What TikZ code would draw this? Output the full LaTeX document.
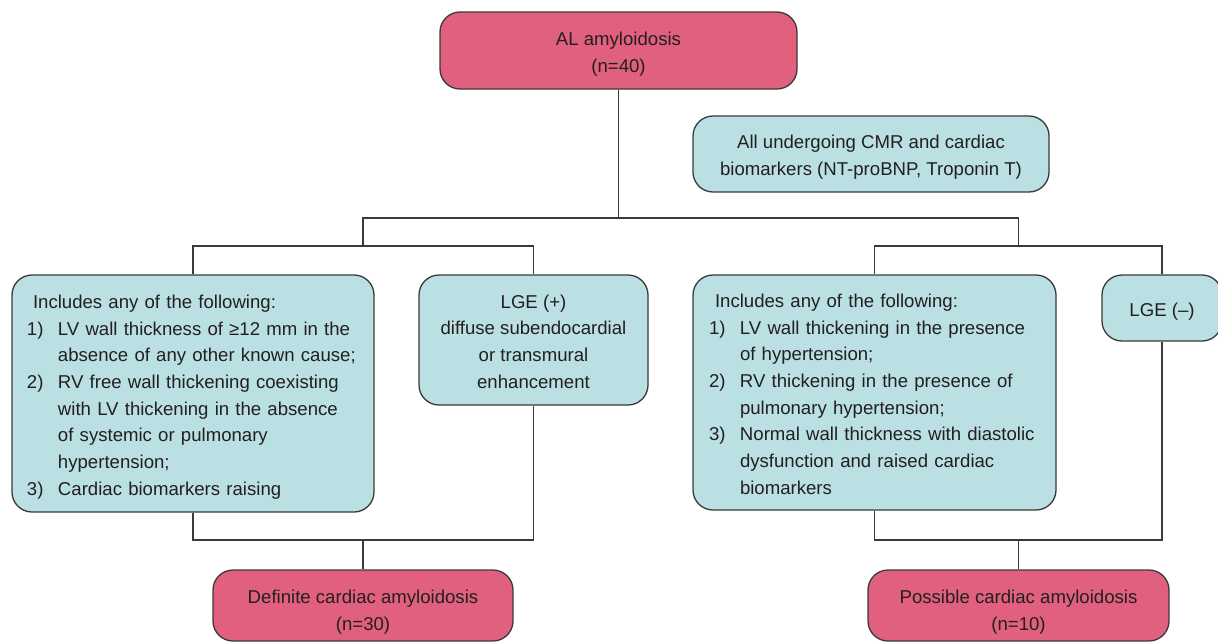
\documentclass[tikz,border=0pt]{standalone}
\usepackage{fontspec}
\setmainfont{Liberation Sans}
\usepackage{array}
\definecolor{pinkfill}{HTML}{E0607E}
\definecolor{tealfill}{HTML}{BAE0E3}
\definecolor{edgec}{HTML}{3A3A3A}
\definecolor{txt}{HTML}{231F20}
\newcommand\lowertxt[1]{\raisebox{-3pt}[\height][\depth]{#1}}
\newcommand\ctab[1]{\lowertxt{\begin{tabular}{@{}c@{}}#1\end{tabular}}}
\begin{document}
\begin{tikzpicture}[x=1pt,y=-1pt,
  box/.style={draw=edgec, rounded corners=20pt, line width=1.3pt, inner sep=0pt,
    font=\fontsize{18.6}{26.7}\selectfont, text=txt, align=center},
  pinkbox/.style={box, fill=pinkfill},
  tealbox/.style={box, fill=tealfill},
  plain/.style={inner sep=0pt, font=\fontsize{18.6}{26.7}\selectfont, text=txt, align=center},
  conn/.style={draw=edgec, line width=1.3pt}]
\useasboundingbox (0,0) rectangle (1218,641);

% boxes
\node[pinkbox, minimum width=357pt, minimum height=77pt] (top) at (618.5,50.5)
  {\ctab{AL amyloidosis\\(n=40)}};
\node[tealbox, minimum width=356pt, minimum height=76pt] (cmr) at (871,154)
  {\ctab{All undergoing CMR and cardiac\\biomarkers (NT-proBNP, Troponin T)}};

\node[tealbox, minimum width=362pt, minimum height=237pt, text width=332pt,
  inner xsep=15pt, align=left] (lbox) at (193,393.5)
  {\lowertxt{\begin{tabular}{@{}p{31pt}@{}l@{}}
   \multicolumn{2}{@{}l@{}}{\hspace{6pt}Includes any of the following:}\\
   1) & LV wall thickness of ≥12 mm in the\\
      & absence of any other known cause;\\
   2) & RV free wall thickening coexisting\\
      & with LV thickening in the absence\\
      & of systemic or pulmonary\\
      & hypertension;\\
   3) & Cardiac biomarkers raising
   \end{tabular}}};

\node[tealbox, minimum width=229pt, minimum height=130pt] (lge) at (533.5,340)
  {\ctab{LGE (+)\\diffuse subendocardial\\or transmural\\enhancement}};

\node[tealbox, minimum width=363pt, minimum height=235pt, text width=331pt,
  inner xsep=16pt, align=left] (rbox) at (874.5,392.5)
  {\lowertxt{\begin{tabular}{@{}p{31pt}@{}l@{}}
   \multicolumn{2}{@{}l@{}}{\hspace{6pt}Includes any of the following:}\\
   1) & LV wall thickening in the presence\\
      & of hypertension;\\
   2) & RV thickening in the presence of\\
      & pulmonary hypertension;\\
   3) & Normal wall thickness with diastolic\\
      & dysfunction and raised cardiac\\
      & biomarkers
   \end{tabular}}};

\node[tealbox, minimum width=120pt, minimum height=66pt] (lgem) at (1162,308)
  {\ctab{LGE (–)}};

\node[pinkbox, minimum width=300pt, minimum height=71pt] (dbox) at (363,605.5) {};
\node[plain] (dtext) at (363,612.5) {Definite cardiac amyloidosis\\(n=30)};
\node[pinkbox, minimum width=301pt, minimum height=71pt] (pbox) at (1018.5,605.5) {};
\node[plain] (ptext) at (1018.5,612.5) {Possible cardiac amyloidosis\\(n=10)};

% connectors
\coordinate (jTop) at (618.5,218);
\coordinate (jL) at (363,246);
\coordinate (jR) at (1018.5,246);
\coordinate (kL) at (363,540);
\coordinate (kR) at (1018.5,540);

\draw[conn] (top.south) -- (jTop);
\draw[conn] (jL) -- (jL |- jTop) -- (jR |- jTop) -- (jR);
\draw[conn] (lbox.north) |- (jL) -| (lge.north);
\draw[conn] (rbox.north) |- (jR) -| (lgem.north);
\draw[conn] (lbox.south) |- (kL) -| (lge.south);
\draw[conn] (kL) -- (dbox.north);
\draw[conn] (rbox.south) |- (kR) -| (lgem.south);
\draw[conn] (kR) -- (pbox.north);
\end{tikzpicture}
\end{document}
